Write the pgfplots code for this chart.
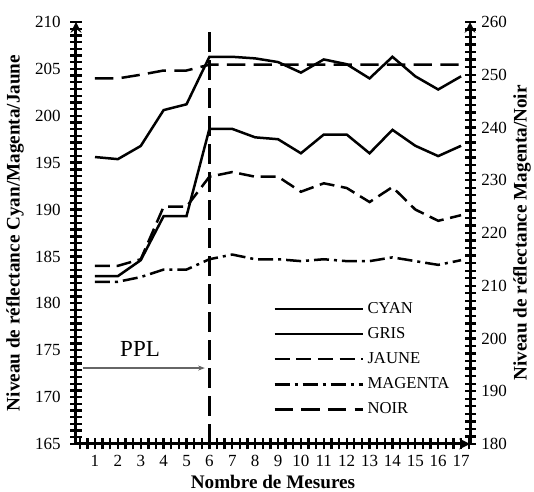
\documentclass[border=0pt]{standalone}
\usepackage{fontspec}
\setmainfont{Liberation Serif}
\usepackage{pgfplots}
\pgfplotsset{compat=1.18}
\usetikzlibrary{arrows.meta}
\begin{document}
\begin{tikzpicture}
\pgfplotsset{
  myaxis/.style={
    scale only axis, width=236.4pt, height=253.2pt,
    xmin=0.17, xmax=17.39,
    tick align=center,
    major tick length=6.6pt, minor tick length=6.6pt,
    tick style={black, line width=1.4pt},
    axis line style={black, line width=1.8pt, -},
    /pgf/number format/assume math mode=true,
    tick label style={font=\fontsize{10.2}{12}\selectfont},
    clip=false,
  },
  cyan/.style={black, line width=1.5pt, solid},
  gris/.style={black, line width=1.5pt, solid},
  jaune/.style={black, line width=1.5pt, dash pattern=on 9pt off 4pt},
  magenta/.style={black, line width=1.5pt, dash pattern=on 9pt off 3pt on 1.8pt off 3pt},
  noir/.style={black, line width=1.5pt, dash pattern=on 11pt off 5pt},
}
\begin{axis}[myaxis, name=main,
  axis x line=bottom, axis y line=left,
  ymin=165, ymax=210, ytick={165,170,...,210}, minor y tick num=6,
  xtick={1,...,17}, minor x tick num=2,
  extra x ticks={0.333,0.667,17.333}, extra x tick labels={},
  extra x tick style={tick style={black, line width=1.4pt}, major tick length=6.6pt},
  xticklabels={1,2,3,4,5,6,7,8,9,10,\raisebox{-2pt}{11},\raisebox{-2pt}{12},13,14,15,16,17},
  yticklabel style={xshift=-2.4pt},
  xlabel={Nombre de Mesures},
  ylabel={Niveau de réflectance Cyan/Magenta/Jaune},
  xlabel style={at={(axis description cs:0.5,-0.09)}, anchor=center, font=\bfseries\fontsize{11.5}{13}\selectfont},
  ylabel style={at={(axis description cs:-0.155,0.5)}, anchor=center, font=\bfseries\fontsize{11.5}{13}\selectfont},
]
% CYAN (lower solid)
\addplot[cyan] coordinates {(1,182.9)(2,182.9)(3,184.6)(4,189.3)(5,189.3)(6,198.6)(7,198.6)(8,197.7)(9,197.5)(10,196.0)(11,198.0)(12,198.0)(13,196.0)(14,198.5)(15,196.8)(16,195.7)(17,196.8)};
% JAUNE
\addplot[jaune] coordinates {(1,184.0)(2,184.0)(3,184.7)(4,190.3)(5,190.3)(6,193.5)(7,194.0)(8,193.5)(9,193.5)(10,191.9)(11,192.8)(12,192.3)(13,190.8)(14,192.4)(15,190.0)(16,188.8)(17,189.4)};
% MAGENTA
\addplot[magenta] coordinates {(1,182.3)(2,182.3)(3,182.8)(4,183.6)(5,183.6)(6,184.7)(7,185.2)(8,184.7)(9,184.7)(10,184.5)(11,184.7)(12,184.5)(13,184.5)(14,184.9)(15,184.5)(16,184.1)(17,184.6)};
% PPL line
\addplot[black, line width=1.8pt, dash pattern=on 12pt off 4.8pt] coordinates {(6,165)(6,208.9)};
\draw[gray!80!black, line width=0.7pt, -{Stealth[length=4pt,width=3pt]}] (axis cs:0.48,173.1) -- (axis cs:5.8,173.1);
\node[font=\fontsize{13.8}{15}\selectfont] at (axis cs:2.97,175.1) {PPL};
\end{axis}
\begin{axis}[myaxis,
  axis x line=none, axis y line=right,
  ymin=180, ymax=260, ytick={180,190,...,260}, minor y tick num=6,
  ylabel={Niveau de réflectance Magenta/Noir},
  ylabel style={at={(axis description cs:1.132,0.5)}, anchor=center, font=\bfseries\fontsize{11.5}{13}\selectfont},
  legend style={draw=none, fill=none, at={(0.5,0.345)}, anchor=north west, inner sep=0pt,
    font=\fontsize{10}{12}\selectfont, row sep=3pt},
  legend cell align=left,
  legend image code/.code={\draw[#1] (0pt,0pt) -- (53pt,0pt);},
]
\addlegendimage{cyan}
% GRIS (upper solid)
\addplot[gris] coordinates {(1,234.4)(2,234.0)(3,236.5)(4,243.3)(5,244.4)(6,253.4)(7,253.4)(8,253.1)(9,252.4)(10,250.4)(11,252.9)(12,252.0)(13,249.3)(14,253.4)(15,249.7)(16,247.2)(17,249.7)};
\addlegendimage{jaune}
\addlegendimage{magenta}
% NOIR
\addplot[noir] coordinates {(1,249.3)(2,249.3)(3,250.0)(4,250.8)(5,250.8)(6,251.9)(7,251.9)(8,251.9)(9,251.9)(10,251.9)(11,251.9)(12,251.9)(13,251.9)(14,251.9)(15,251.9)(16,251.9)(17,251.9)};
\legend{CYAN,GRIS,JAUNE,MAGENTA,NOIR}
\end{axis}
\pgfresetboundingbox
\path ([shift={(-45.6pt,-28.8pt)}]main.south west) rectangle ([shift={(38.4pt,13.2pt)}]main.north east);
\end{tikzpicture}
\end{document}
